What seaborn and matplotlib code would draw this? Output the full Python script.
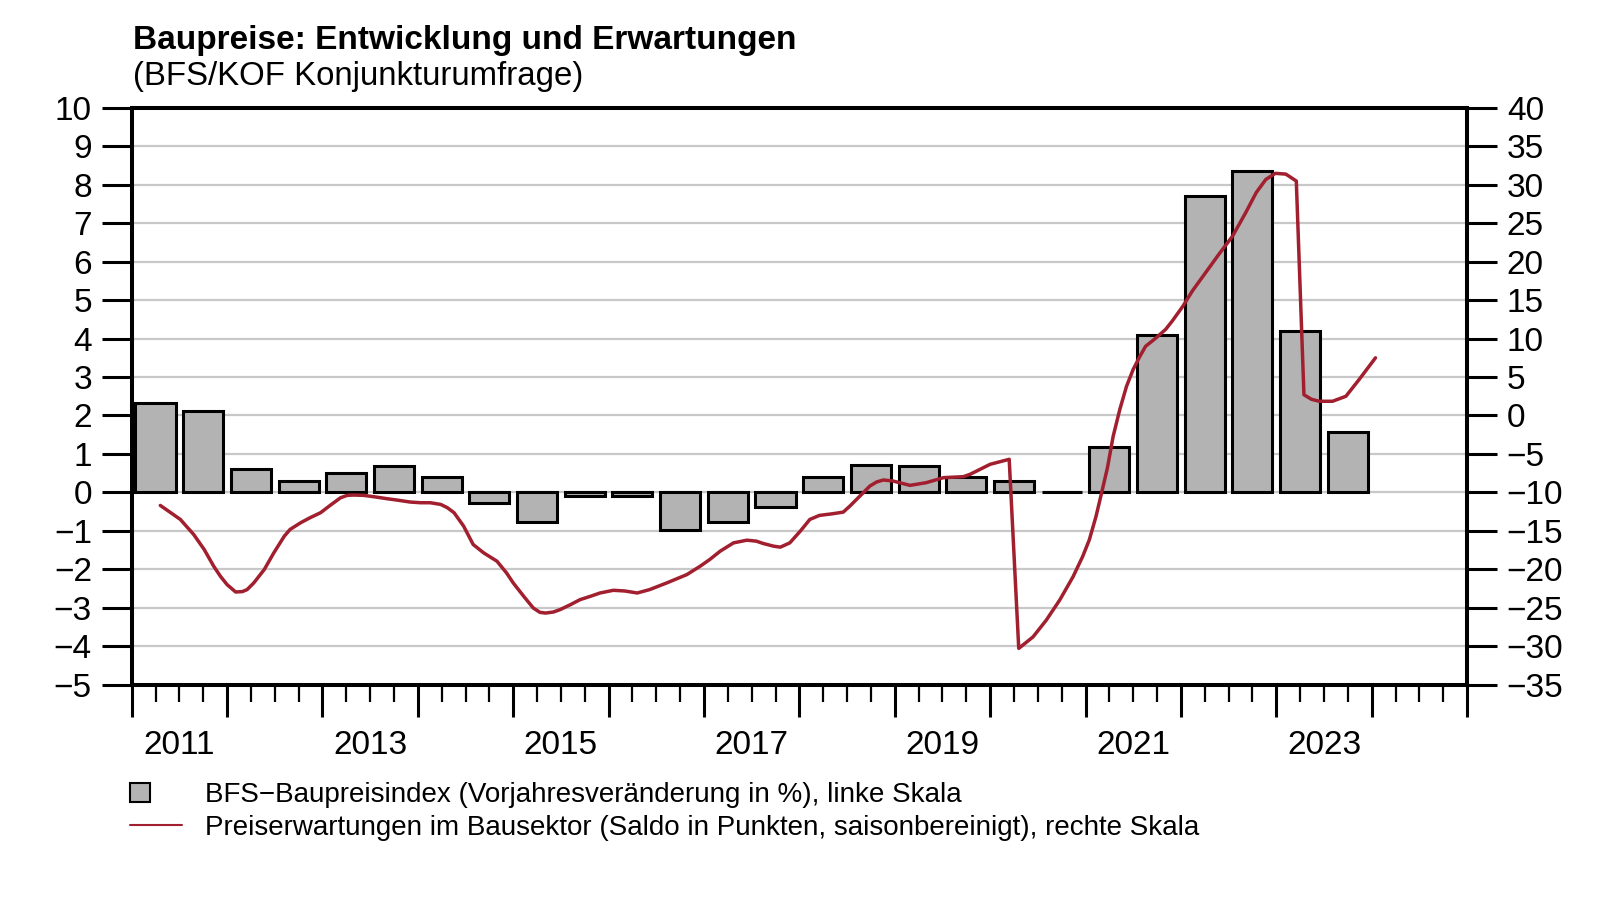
import numpy as np
import pandas as pd
import seaborn as sns
import matplotlib.pyplot as plt
import matplotlib.patches as mpatches
import matplotlib.transforms as mtransforms
from matplotlib.lines import Line2D
from matplotlib.legend_handler import HandlerPatch

# BFS-Baupreisindex, Vorjahresveraenderung in % (Halbjahre)
semester = ["2011 H1", "2011 H2", "2012 H1", "2012 H2", "2013 H1", "2013 H2",
            "2014 H1", "2014 H2", "2015 H1", "2015 H2", "2016 H1", "2016 H2",
            "2017 H1", "2017 H2", "2018 H1", "2018 H2", "2019 H1", "2019 H2",
            "2020 H1", "2020 H2", "2021 H1", "2021 H2", "2022 H1", "2022 H2",
            "2023 H1", "2023 H2"]
baupreisindex = [2.32, 2.11, 0.60, 0.30, 0.50, 0.68,
                 0.39, -0.28, -0.78, -0.10, -0.10, -0.97,
                 -0.78, -0.38, 0.39, 0.70, 0.68, 0.39,
                 0.29, 0.0, 1.17, 4.10, 7.70, 8.36,
                 4.19, 1.56]

# Preiserwartungen im Bausektor (Saldo), Zeitpunkt als Dezimaljahr
erwartung_zeit = [2011.30, 2011.51, 2011.65, 2011.76, 2011.86, 2011.93, 2012.00, 2012.09,
                  2012.16, 2012.21, 2012.28, 2012.39, 2012.49, 2012.60, 2012.66, 2012.77,
                  2012.87, 2012.98, 2013.08, 2013.19, 2013.26, 2013.33, 2013.43, 2013.54,
                  2013.68, 2013.78, 2013.92, 2014.03, 2014.13, 2014.24, 2014.31, 2014.38,
                  2014.48, 2014.58, 2014.69, 2014.83, 2014.93, 2015.00, 2015.11, 2015.21,
                  2015.28, 2015.34, 2015.42, 2015.49, 2015.60, 2015.70, 2015.81, 2015.91,
                  2016.05, 2016.17, 2016.30, 2016.43, 2016.61, 2016.82, 2016.96, 2017.06,
                  2017.17, 2017.31, 2017.45, 2017.55, 2017.62, 2017.73, 2017.80, 2017.90,
                  2018.01, 2018.11, 2018.21, 2018.35, 2018.46, 2018.53, 2018.60, 2018.74,
                  2018.81, 2018.88, 2018.98, 2019.16, 2019.33, 2019.51, 2019.72, 2019.79,
                  2019.86, 2020.00, 2020.20, 2020.30, 2020.45, 2020.59, 2020.73, 2020.87,
                  2020.97, 2021.04, 2021.11, 2021.17, 2021.23, 2021.29, 2021.36, 2021.43,
                  2021.50, 2021.57, 2021.63, 2021.74, 2021.84, 2021.91, 2022.02, 2022.12,
                  2022.26, 2022.40, 2022.54, 2022.68, 2022.79, 2022.89, 2022.99, 2023.10,
                  2023.21, 2023.29, 2023.37, 2023.45, 2023.59, 2023.73, 2023.87, 2024.04]
erwartung_saldo = [-11.70, -13.52, -15.48, -17.43, -19.61, -20.91, -22.00, -22.96,
                   -22.91, -22.65, -21.78, -20.04, -17.87, -15.70, -14.83, -13.96,
                   -13.30, -12.65, -11.70, -10.70, -10.39, -10.35, -10.39, -10.57,
                   -10.83, -11.00, -11.26, -11.35, -11.35, -11.57, -12.00, -12.65,
                   -14.39, -16.78, -17.87, -18.96, -20.48, -21.78, -23.52, -25.04,
                   -25.61, -25.70, -25.57, -25.26, -24.61, -23.96, -23.52, -23.09,
                   -22.74, -22.83, -23.09, -22.65, -21.78, -20.70, -19.61, -18.74,
                   -17.65, -16.57, -16.22, -16.35, -16.65, -17.00, -17.13, -16.57,
                   -15.04, -13.52, -13.00, -12.78, -12.57, -11.78, -10.91, -9.17,
                   -8.65, -8.39, -8.52, -9.09, -8.74, -8.09, -7.96, -7.65,
                   -7.22, -6.35, -5.70, -30.30, -28.80, -26.60, -24.00, -20.96,
                   -18.35, -16.17, -13.13, -10.00, -6.80, -2.70, 0.80, 3.80,
                   6.00, 7.70, 9.00, 10.10, 11.20, 12.30, 14.20, 16.20,
                   18.60, 21.00, 23.30, 26.40, 29.00, 30.70, 31.50, 31.40,
                   30.50, 2.70, 2.10, 1.85, 1.85, 2.50, 4.70, 7.50]

jahr_labels = [2011, 2013, 2015, 2017, 2019, 2021, 2023]

titel = "Baupreise: Entwicklung und Erwartungen"
untertitel = "(BFS/KOF Konjunkturumfrage)"
legende = ["BFS\u2212Baupreisindex (Vorjahresveränderung in %), linke Skala",
           "Preiserwartungen im Bausektor (Saldo in Punkten, saisonbereinigt), rechte Skala"]

grau = "#b3b3b3"
rot = "#a11f2e"

sns.set_style("white")
plt.rcParams.update({
    "font.family": ["Liberation Sans", "DejaVu Sans"],
    "text.color": "black",
    "axes.edgecolor": "black",
    "xtick.color": "black",
    "ytick.color": "black",
    "xtick.bottom": True,
    "ytick.left": True,
})

df_bars = pd.DataFrame({"semester": semester, "wert": baupreisindex})
df_bars["x"] = [int(s[:4]) + (0.25 if s.endswith("H1") else 0.75) for s in semester]
df_line = pd.DataFrame({"zeit": erwartung_zeit, "saldo": erwartung_saldo})

fig = plt.figure(figsize=(16, 9), dpi=100)
ax = fig.add_axes([0.0823, 0.2394, 0.9169 - 0.0823, 0.88 - 0.2394])
ax.yaxis.grid(True, color="#c8c8c8", linewidth=1.6)
ax.set_axisbelow(True)

sns.barplot(data=df_bars, x="x", y="wert", native_scale=True, width=0.84,
            color=grau, saturation=1, edgecolor="black", linewidth=2.2,
            errorbar=None, ax=ax)

ax2 = ax.twinx()
sns.lineplot(data=df_line, x="zeit", y="saldo", color=rot, linewidth=2.5, ax=ax2)

ax.set_xlim(2011, 2025)
ax.set_ylim(-5, 10)
ax2.set_ylim(-35, 40)
ax.set_xlabel("")
ax.set_ylabel("")
ax2.set_ylabel("")

ax.set_yticks(range(-5, 11))
ax2.set_yticks(range(-35, 41, 5))
ax.set_xticks(range(2011, 2026))
ax.set_xticks(np.arange(2011, 2025.01, 0.25), minor=True)
ax.tick_params(axis="x", which="major", bottom=True, length=23, width=2.2, labelbottom=False)
ax.tick_params(axis="x", which="minor", bottom=True, length=12, width=1.6)
ax.tick_params(axis="y", left=True, length=21.6, width=2.2, pad=7, labelsize=24)
ax2.tick_params(axis="y", right=True, length=21.6, width=2.2, pad=7, labelsize=24)

for s in ["top", "left", "bottom"]:
    ax.spines[s].set_linewidth(2.9)
ax.spines["right"].set_visible(False)
for s in ["top", "left", "bottom"]:
    ax2.spines[s].set_visible(False)
ax2.spines["right"].set_linewidth(2.9)

trans = mtransforms.blended_transform_factory(ax.transData, fig.transFigure)
for j in jahr_labels:
    ax.text(j + 0.5, 0.172, str(j), transform=trans, ha="center", va="center", fontsize=24)

fig.text(0.083, 0.9555, titel, fontsize=24, fontweight="bold", ha="left", va="center")
fig.text(0.083, 0.9145, untertitel, fontsize=23.8, ha="left", va="center")


def kleines_quadrat(legend, orig_handle, xdescent, ydescent, width, height, fontsize):
    return mpatches.Rectangle((-xdescent, -ydescent), height * 1.05, height)


handles = [mpatches.Patch(facecolor=grau, edgecolor="black", linewidth=1.5),
           Line2D([], [], color=rot, linewidth=1.5)]
fig.legend(handles, legende, loc="upper left", bbox_to_anchor=(0.081, 0.131),
           frameon=False, fontsize=20, handlelength=1.9, handletextpad=0.8,
           labelspacing=0.25, borderpad=0, borderaxespad=0,
           handler_map={mpatches.Patch: HandlerPatch(patch_func=kleines_quadrat)})

fig.savefig("out.png", dpi=100)
